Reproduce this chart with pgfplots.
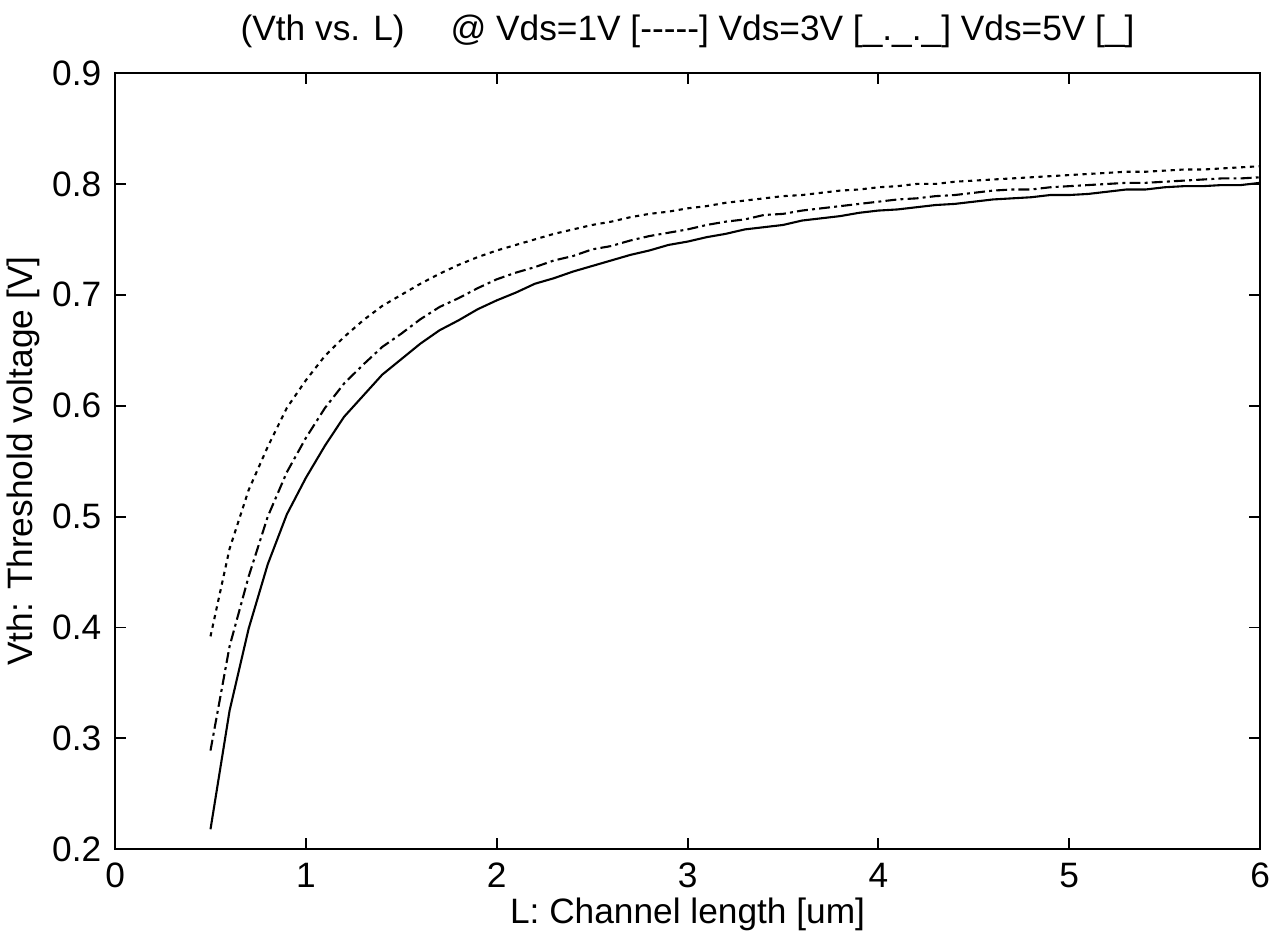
\documentclass[border=0pt]{standalone}
\usepackage{fontspec}
\setmainfont{Liberation Sans}
\usepackage{pgfplots}
\usepackage{pgfplotstable}
\pgfplotsset{compat=1.18}

% Vth vs channel length, three drain biases
\pgfplotstableread{
L    v1    v3    v5
0.5  0.392 0.289 0.218
0.6  0.471 0.383 0.325
0.7  0.524 0.446 0.399
0.8  0.563 0.500 0.457
0.9  0.598 0.540 0.502
1.0  0.623 0.571 0.535
1.1  0.645 0.598 0.564
1.2  0.662 0.620 0.590
1.3  0.677 0.637 0.609
1.4  0.690 0.653 0.628
1.5  0.700 0.665 0.642
1.6  0.710 0.678 0.656
1.7  0.719 0.689 0.668
1.8  0.727 0.697 0.677
1.9  0.734 0.706 0.687
2.0  0.740 0.714 0.695
2.1  0.745 0.720 0.702
2.2  0.750 0.725 0.710
2.3  0.755 0.731 0.715
2.4  0.759 0.735 0.721
2.5  0.763 0.741 0.726
2.6  0.766 0.744 0.731
2.7  0.770 0.749 0.736
2.8  0.773 0.753 0.740
2.9  0.775 0.756 0.745
3.0  0.778 0.759 0.748
3.1  0.780 0.763 0.752
3.2  0.783 0.766 0.755
3.3  0.785 0.768 0.759
3.4  0.787 0.772 0.761
3.5  0.789 0.773 0.763
3.6  0.790 0.776 0.767
3.7  0.792 0.778 0.769
3.8  0.794 0.780 0.771
3.9  0.795 0.782 0.774
4.0  0.797 0.784 0.776
4.1  0.798 0.786 0.777
4.2  0.800 0.787 0.779
4.3  0.800 0.789 0.781
4.4  0.802 0.790 0.782
4.5  0.803 0.792 0.784
4.6  0.804 0.794 0.786
4.7  0.805 0.795 0.787
4.8  0.806 0.795 0.788
4.9  0.807 0.797 0.790
5.0  0.808 0.798 0.790
5.1  0.809 0.799 0.791
5.2  0.810 0.800 0.793
5.3  0.811 0.801 0.795
5.4  0.811 0.801 0.795
5.5  0.812 0.802 0.797
5.6  0.813 0.803 0.798
5.7  0.813 0.804 0.798
5.8  0.814 0.805 0.799
5.9  0.815 0.805 0.799
6.0  0.816 0.806 0.801
}\vthdata

\begin{document}
\fontsize{8.4pt}{10pt}\selectfont
\begin{tikzpicture}
\begin{axis}[
  scale only axis,
  width=272.6pt, height=184.8pt,
  xmin=0, xmax=6, ymin=0.2, ymax=0.9,
  xtick={0,1,...,6},
  ytick={0.2,0.3,...,0.9},
  tick align=inside,
  major tick length=2.6pt,
  axis line style={line width=0.5pt},
  every tick/.style={black, line width=0.45pt},
  /pgf/number format/assume math mode=true,
  ticklabel style={font=\fontsize{8.4pt}{10pt}\selectfont},
  label style={font=\fontsize{8.4pt}{10pt}\selectfont},
  title style={font=\fontsize{8.4pt}{10pt}\selectfont},
  yticklabel style={/pgf/number format/fixed, /pgf/number format/precision=1, /pgf/number format/fixed zerofill, anchor=east, inner sep=0pt, xshift=-3.1pt},
  xticklabel style={anchor=north, inner sep=0pt, yshift=-3.1pt},
  xlabel={L: Channel length [um]},
  ylabel={Vth: Threshold voltage [V]},
  xlabel style={at={(axis description cs:0.5,-0.0844)}, anchor=center, inner sep=0pt},
  ylabel style={at={(axis description cs:-0.08,0.5)}, anchor=center, inner sep=0pt},
  title={(Vth vs. L)\hspace{1.3em}@ Vds=1V [{-}{-}{-}{-}{-}] Vds=3V [\_.\_.\_] Vds=5V [\_]},
  title style={at={(axis description cs:0.5,1.021)}, anchor=center, inner sep=0pt, yshift=0pt},
]
\addplot[black, line width=0.5pt, dash pattern=on 1pt off 1.1pt] table[x=L, y=v1] {\vthdata};
\addplot[black, line width=0.5pt, dash pattern=on 2.6pt off 1pt on 0.7pt off 1pt] table[x=L, y=v3] {\vthdata};
\addplot[black, line width=0.5pt] table[x=L, y=v5] {\vthdata};
\end{axis}
\pgfresetboundingbox
\path (current axis.south west) ++(-27.4pt,-20.5pt) rectangle ([xshift=3.8pt, yshift=17.4pt]current axis.north east);
\end{tikzpicture}
\end{document}
